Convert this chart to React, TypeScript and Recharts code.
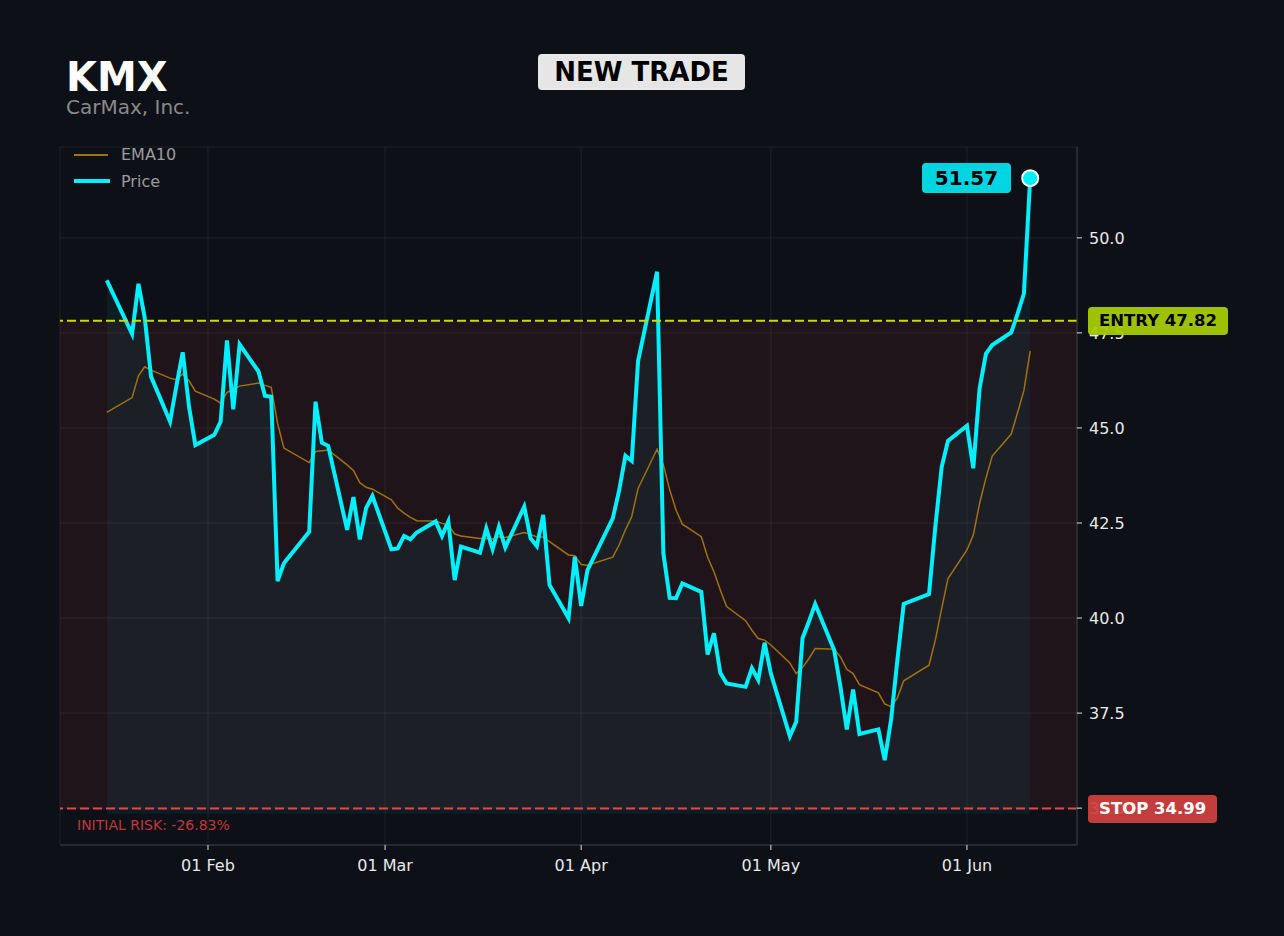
import {
  ComposedChart,
  Area,
  Line,
  XAxis,
  YAxis,
  CartesianGrid,
  ReferenceArea,
  ReferenceLine,
  ReferenceDot,
} from 'recharts';

// trading days, 2026
const dates = [
  '01-16', '01-20', '01-21', '01-22', '01-23', '01-26', '01-27', '01-28', '01-29', '01-30',
  '02-02', '02-03', '02-04', '02-05', '02-06', '02-09', '02-10', '02-11', '02-12', '02-13',
  '02-17', '02-18', '02-19', '02-20', '02-23', '02-24', '02-25', '02-26', '02-27',
  '03-02', '03-03', '03-04', '03-05', '03-06', '03-09', '03-10', '03-11', '03-12', '03-13',
  '03-16', '03-17', '03-18', '03-19', '03-20', '03-23', '03-24', '03-25', '03-26', '03-27',
  '03-30', '03-31', '04-01', '04-02', '04-06', '04-07', '04-08', '04-09', '04-10',
  '04-13', '04-14', '04-15', '04-16', '04-17', '04-20', '04-21', '04-22', '04-23', '04-24',
  '04-27', '04-28', '04-29', '04-30', '05-01', '05-04', '05-05', '05-06', '05-07', '05-08',
  '05-11', '05-12', '05-13', '05-14', '05-15', '05-18', '05-19', '05-20', '05-21', '05-22',
  '05-26', '05-27', '05-28', '05-29', '06-01', '06-02', '06-03', '06-04', '06-05',
  '06-08', '06-09', '06-10', '06-11',
];

const price = [
  48.88, 47.47, 48.79, 47.9, 46.35, 45.17, 46.1, 46.99, 45.56, 44.55,
  44.82, 45.17, 47.3, 45.49, 47.2, 46.48, 45.85, 45.82, 40.97, 41.44,
  42.27, 45.69, 44.61, 44.53, 42.32, 43.18, 42.07, 42.89, 43.21,
  41.81, 41.83, 42.16, 42.07, 42.25, 42.54, 42.16, 42.54, 41.0, 41.88,
  41.72, 42.36, 41.81, 42.4, 41.86, 42.93, 42.1, 41.89, 42.71, 40.87,
  40.0, 41.61, 40.32, 41.26, 42.62, 43.35, 44.27, 44.13, 46.76,
  49.11, 41.7, 40.53, 40.52, 40.91, 40.69, 39.04, 39.6, 38.56, 38.28,
  38.19, 38.68, 38.37, 39.35, 38.54, 36.89, 37.27, 39.47, 39.9, 40.37,
  39.16, 38.19, 37.07, 38.12, 36.95, 37.07, 36.26, 37.32, 38.9, 40.37,
  40.63, 42.4, 43.97, 44.66, 45.06, 43.94, 46.04, 46.95, 47.18,
  47.51, 48.0, 48.53, 51.57,
];

const ema10 = [
  45.41, 45.8, 46.37, 46.61, 46.52, 46.31, 46.27, 46.42, 46.24, 45.97,
  45.76, 45.65, 45.93, 46.02, 46.1, 46.18, 46.12, 46.07, 45.12, 44.47,
  44.09, 44.38, 44.4, 44.42, 44.03, 43.88, 43.56, 43.44, 43.39,
  43.11, 42.89, 42.76, 42.65, 42.56, 42.55, 42.49, 42.45, 42.21, 42.16,
  42.09, 42.09, 42.08, 42.14, 42.12, 42.25, 42.2, 42.13, 42.13, 42.01,
  41.66, 41.64, 41.41, 41.39, 41.6, 41.92, 42.32, 42.67, 43.41,
  44.44, 44.03, 43.37, 42.84, 42.47, 42.14, 41.6, 41.22, 40.74, 40.3,
  39.93, 39.68, 39.46, 39.42, 39.29, 38.82, 38.54, 38.7, 38.93, 39.2,
  39.18, 38.98, 38.65, 38.54, 38.25, 38.03, 37.74, 37.67, 37.9, 38.35,
  38.76, 39.42, 40.25, 41.04, 41.79, 42.18, 43.02, 43.68, 44.26,
  44.84, 45.4, 45.98, 47.03,
];

const tickDates = ['02-01', '03-01', '04-01', '05-01', '06-01'];
const tickLabels = ['01 Feb', '01 Mar', '01 Apr', '01 May', '01 Jun'];
const priceTicks = [35, 37.5, 40, 42.5, 45, 47.5, 50];

const ENTRY = 47.82;
const STOP = 34.99;
const LAST = 51.57;
const RISK_LABEL = 'INITIAL RISK: -26.83%';

const dayOf = (md: string) => {
  const [m, d] = md.split('-').map(Number);
  return (Date.UTC(2026, m - 1, d) - Date.UTC(2026, 0, 1)) / 86400000;
};

const data = dates.map((md, i) => ({ d: dayOf(md), price: price[i], ema: ema10[i] }));
const tickDays = tickDates.map(dayOf);

const W = 1284;
const H = 936;
const PLOT_TOP = 147;
const PLOT_BOTTOM = 845;
const Y_MIN = 34.03;
const Y_MAX = 52.39;
const FONT = '"DejaVu Sans", sans-serif';

const yOf = (v: number) => PLOT_TOP + ((Y_MAX - v) / (Y_MAX - Y_MIN)) * (PLOT_BOTTOM - PLOT_TOP);

const badge = (bg: string, color: string) => ({
  position: 'absolute' as const,
  height: 28,
  lineHeight: '28px',
  padding: '0 11px',
  borderRadius: 4,
  background: bg,
  color,
  fontWeight: 700,
  fontSize: 16.5,
  whiteSpace: 'nowrap' as const,
});

export default function App() {
  return (
    <div style={{ position: 'fixed', inset: 0, background: '#0d1117', fontFamily: FONT }}>
      <div style={{ position: 'relative', width: W, height: H }}>
        <ComposedChart
          width={W}
          height={H}
          data={data}
          margin={{ top: PLOT_TOP, left: 60, right: 147, bottom: 61 }}
          style={{ fontFamily: FONT }}
        >
          <CartesianGrid stroke="#ffffff" strokeOpacity={0.07} />
          <ReferenceArea y1={STOP} y2={ENTRY} fill="#ff3c3c" fillOpacity={0.08} stroke="none" />
          <XAxis
            dataKey="d"
            type="number"
            domain={[7.6, 168.4]}
            allowDataOverflow
            ticks={tickDays}
            tickFormatter={(v) => tickLabels[tickDays.indexOf(v)] ?? ''}
            height={30}
            tickSize={5}
            tickMargin={10}
            axisLine={{ stroke: '#3c3c3c' }}
            tickLine={{ stroke: '#e0e0e0' }}
            tick={{ fill: '#e8e8e8', fontSize: 16 }}
          />
          <YAxis
            orientation="right"
            type="number"
            domain={[Y_MIN, Y_MAX]}
            allowDataOverflow
            ticks={priceTicks}
            tickFormatter={(v) => v.toFixed(1)}
            width={60}
            tickSize={5}
            tickMargin={7}
            axisLine={{ stroke: '#3c3c3c' }}
            tickLine={{ stroke: '#e0e0e0' }}
            tick={{ fill: '#e8e8e8', fontSize: 16 }}
          />
          <Area
            type="linear"
            dataKey="price"
            baseValue={34.85}
            fill="#00e5ff"
            fillOpacity={0.06}
            stroke="none"
            isAnimationActive={false}
          />
          <Line
            type="linear"
            dataKey="ema"
            stroke="#a0720f"
            strokeWidth={1.5}
            dot={false}
            isAnimationActive={false}
          />
          <Line
            type="linear"
            dataKey="price"
            stroke="#00f0ff"
            strokeWidth={4}
            dot={false}
            isAnimationActive={false}
          />
          <ReferenceLine y={ENTRY} stroke="#c8dc00" strokeWidth={2} strokeDasharray="9 4" />
          <ReferenceLine y={STOP} stroke="#e04848" strokeWidth={2} strokeDasharray="9 4" />
          <ReferenceDot
            x={data[data.length - 1].d}
            y={LAST}
            r={8}
            fill="#00f0ff"
            stroke="#ffffff"
            strokeWidth={2}
          />
        </ComposedChart>

        {/* header */}
        <div style={{ position: 'absolute', left: 66, top: 59, height: 36, fontSize: 40, fontWeight: 700, lineHeight: '36px', color: '#ffffff' }}>
          KMX
        </div>
        <div style={{ position: 'absolute', left: 66, top: 97, fontSize: 20, lineHeight: 1, color: '#8a8a8a' }}>
          CarMax, Inc.
        </div>
        <div
          style={{
            position: 'absolute',
            left: 538,
            top: 54,
            width: 207,
            height: 36,
            lineHeight: '36px',
            textAlign: 'center',
            borderRadius: 4,
            background: '#e6e6e6',
            color: '#000',
            fontWeight: 700,
            fontSize: 26,
          }}
        >
          NEW TRADE
        </div>

        {/* legend */}
        <div style={{ position: 'absolute', left: 74, top: 154, width: 34, height: 2, background: '#a0720f' }} />
        <div style={{ position: 'absolute', left: 121, top: 145, height: 20, lineHeight: '20px', fontSize: 16, color: '#9b9b9b' }}>
          EMA10
        </div>
        <div style={{ position: 'absolute', left: 74, top: 179, width: 36, height: 4, background: '#00f0ff' }} />
        <div style={{ position: 'absolute', left: 121, top: 172, height: 20, lineHeight: '20px', fontSize: 16, color: '#9b9b9b' }}>
          Price
        </div>

        {/* trade labels */}
        <div
          style={{
            ...badge('rgba(0, 220, 232, 0.97)', '#000'),
            left: 922,
            top: yOf(LAST) - 15,
            width: 89,
            height: 30,
            lineHeight: '30px',
            padding: 0,
            textAlign: 'center',
            fontSize: 20,
          }}
        >
          {LAST.toFixed(2)}
        </div>
        <div style={{ ...badge('rgba(168, 204, 0, 0.94)', '#000'), left: 1088, top: yOf(ENTRY) - 14 }}>
          ENTRY {ENTRY.toFixed(2)}
        </div>
        <div style={{ ...badge('rgba(208, 64, 64, 0.94)', '#fff'), left: 1088, top: yOf(STOP) - 14 }}>
          STOP {STOP.toFixed(2)}
        </div>
        <div style={{ position: 'absolute', left: 77, top: yOf(STOP) + 6, height: 20, lineHeight: '20px', fontSize: 14, color: '#c03838' }}>
          {RISK_LABEL}
        </div>
      </div>
    </div>
  );
}
